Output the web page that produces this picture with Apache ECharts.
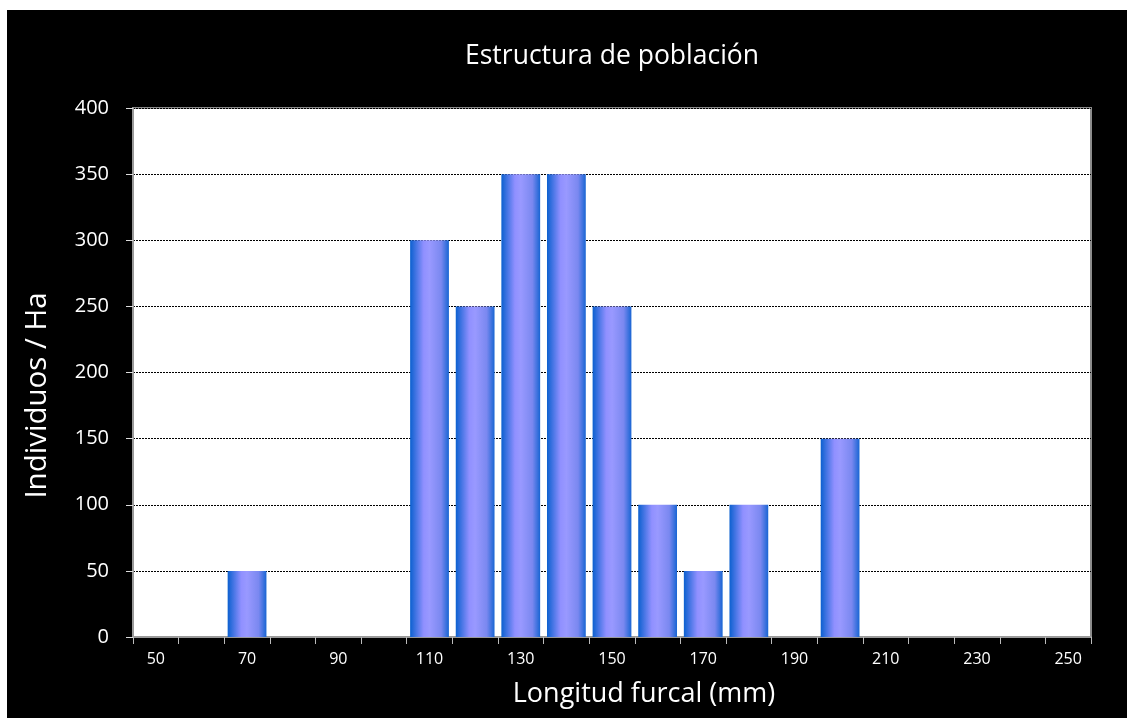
<!DOCTYPE html>
<html>
<head>
<meta charset="utf-8">
<script src="https://cdn.jsdelivr.net/npm/echarts@6/dist/echarts.min.js"></script>
<style>
html,body{margin:0;padding:0;background:#fff;width:1127px;height:718px;overflow:hidden;}
#c{position:absolute;left:7px;top:10px;width:1120px;height:708px;background:#000;}
</style>
</head>
<body>
<div id="c"></div>
<script>
const categories = ['50','60','70','80','90','100','110','120','130','140','150','160','170','180','190','200','210','220','230','240','250'];
const values = [0,0,50,0,0,0,300,250,350,350,250,100,50,100,0,150,0,0,0,0,0];
const yTicks = {min:0, max:400, interval:50};
const titleText = 'Estructura de población';
const xName = 'Longitud furcal (mm)';
const yName = 'Individuos / Ha';

const font = '"Open Sans", sans-serif';
const chart = echarts.init(document.getElementById('c'), null, {renderer:'canvas'});
chart.setOption({
  backgroundColor:'#000',
  animation:false,
  title:{text:titleText,left:453,top:28,padding:5,
    textStyle:{color:'#fff',fontFamily:font,fontWeight:'normal',fontSize:26.5}},
  grid:{left:126,right:36,top:98,bottom:81,show:true,backgroundColor:'#fff',
    borderColor:'#8c8c8c',borderWidth:2},
  xAxis:{type:'category',data:categories,
    name:xName,nameLocation:'middle',nameGap:44,
    nameTextStyle:{color:'#fff',fontFamily:font,fontSize:27,padding:[0,0,0,64]},
    axisLine:{show:true,lineStyle:{color:'#9a9a9a',width:2}},
    axisTick:{show:true,interval:0,length:7,lineStyle:{color:'#bbb',width:1}},
    axisLabel:{interval:1,color:'#fff',fontFamily:font,fontSize:16,margin:14},
    splitLine:{show:false}},
  yAxis:{type:'value',min:yTicks.min,max:yTicks.max,interval:yTicks.interval,
    name:yName,nameLocation:'middle',nameGap:80,
    nameTextStyle:{color:'#fff',fontFamily:font,fontSize:29.5,padding:[0,46,0,0]},
    axisLine:{show:true,lineStyle:{color:'#9a9a9a',width:2}},
    axisTick:{show:true,length:7,lineStyle:{color:'#ddd',width:1}},
    axisLabel:{color:'#fff',fontFamily:font,fontSize:20,margin:24},
    splitLine:{show:true,lineStyle:{color:'#000',width:1,type:[2,1]}}},
  series:[{type:'bar',data:values,barWidth:'85%',
    itemStyle:{color:new echarts.graphic.LinearGradient(0,0,1,0,[
      {offset:0,color:'#0b60cf'},
      {offset:0.35,color:'#9090ff'},
      {offset:0.5,color:'#9999ff'},
      {offset:0.8,color:'#7a88f0'},
      {offset:1,color:'#1865d3'}])}}]
});
</script>
</body>
</html>
